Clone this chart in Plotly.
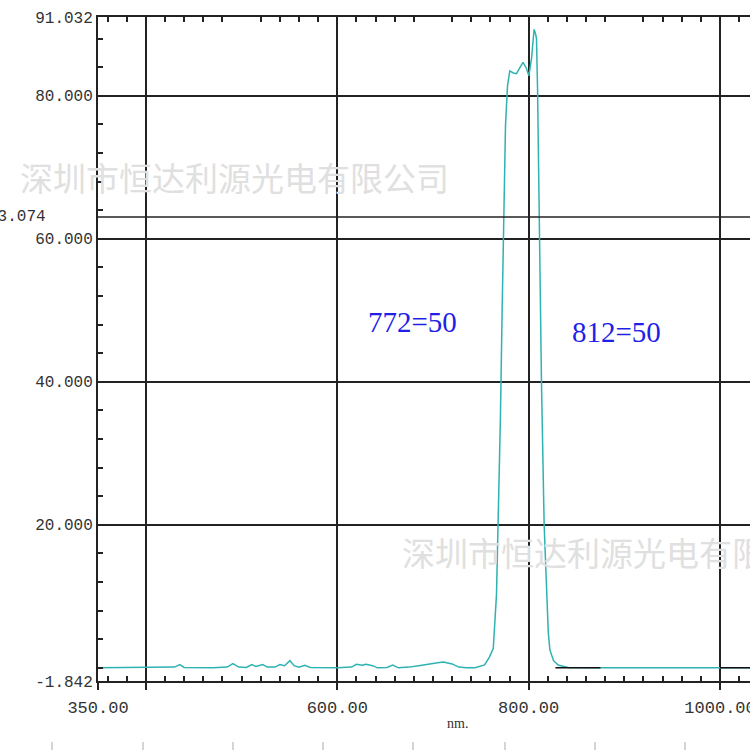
import plotly.graph_objects as go

# ---- data ----
wavelength = [350, 375, 383, 390, 420, 430, 435.5, 440, 470, 485, 491, 497, 505, 510.7, 515, 522, 527,
              535, 540, 545, 550.5, 555, 560, 566, 572, 600, 615, 620, 626, 630, 637, 642, 652, 658, 664,
              675, 685, 695, 705, 711, 720, 727, 735, 744, 754, 759, 763, 766.4, 768.1, 770.5, 772.3,
              773.5, 775.8, 777.9, 780.3, 784, 787.3, 791, 794.2, 797.8, 800.2, 803, 805.7, 807.2, 808.2,
              809.3, 810.6, 811.7, 812.7, 813.4, 816.2, 818.7, 820.5, 822.2, 826, 830.9, 841, 870, 1000, 1035]
transmittance = [0.0, 0.0, 0.1, 0.0, 0.05, 0.1, 0.45, 0.05, 0.0, 0.1, 0.6, 0.1, 0.05, 0.45, 0.2, 0.45, 0.1,
                 0.1, 0.45, 0.3, 1.0, 0.3, 0.1, 0.35, 0.05, 0.0, 0.1, 0.5, 0.35, 0.5, 0.3, 0.0, 0.05, 0.4, 0.0,
                 0.1, 0.3, 0.45, 0.7, 0.8, 0.55, 0.1, 0.0, 0.0, 0.4, 1.5, 2.7, 10.2, 20.0, 35.0, 50.0,
                 60.0, 75.8, 81.4, 83.5, 83.2, 83.1, 84.0, 84.7, 83.8, 82.8, 85.2, 89.3, 88.7, 88.0,
                 81.0, 67.5, 53.5, 42.3, 40.0, 20.0, 10.2, 5.0, 2.5, 1.0, 0.4, 0.05, 0.0, 0.0, 0.0]

# black baseline segments visible over the curve
base_x = [828, 875, None, 1000, 1035]
base_y = [0, 0, None, 0, 0]

x_range = [350, 1031.3]
y_range = [-1.842, 91.032]
y_tickvals = [-1.842, 20, 40, 60, 80, 91.032]
y_ticktext = ["-1.842", "20.000", "40.000", "60.000", "80.000", "91.032"]
x_tickvals = [350, 400, 600, 800, 1000]
x_ticktext = ["350.00", "", "600.00", "800.00", "1000.00"]
ref_level = 63.074
marks = [("772=50", 679, 48.4), ("812=50", 892, 47.0)]
watermark = "深圳市恒达利源光电有限公司"

# plot area on the page: x 98..750, y 17..681
PL, PT, PW, PH = 98, 17, 652, 664


def px(x):
    return (x - PL) / PW


def py(y):
    return (PT + PH - y) / PH


fig = go.Figure()
fig.add_trace(go.Scatter(x=wavelength, y=transmittance, mode="lines",
                         line=dict(color="#2fb2b2", width=1.5), hoverinfo="skip", showlegend=False))
fig.add_trace(go.Scatter(x=base_x, y=base_y, mode="lines",
                         line=dict(color="#111111", width=1.5), hoverinfo="skip", showlegend=False))
# top axis with minor ticks
fig.add_trace(go.Scatter(x=[None], y=[None], xaxis="x2", showlegend=False))

mono = "Liberation Mono"
fig.update_layout(
    width=750, height=750,
    margin=dict(l=98, r=0, t=17, b=69, autoexpand=False),
    paper_bgcolor="white", plot_bgcolor="white",
    xaxis=dict(range=x_range, tickvals=x_tickvals, ticktext=x_ticktext, automargin=False,
               ticklabeloverflow="allow", ticklabelstandoff=3,
               showgrid=True, gridcolor="#222222", gridwidth=1.5,
               showline=True, linecolor="#222222", linewidth=2,
               ticks="outside", ticklen=7, tickcolor="#222222", tickwidth=1.5,
               minor=dict(ticks="inside", dtick=20, tick0=0, ticklen=5, tickcolor="#222222", tickwidth=1.5,
                          showgrid=False),
               tickfont=dict(family=mono, size=17, color="#333333"), zeroline=False),
    xaxis2=dict(range=x_range, overlaying="x", side="top", showgrid=False, showticklabels=False,
                automargin=False,
                showline=True, linecolor="#222222", linewidth=2, ticks="",
                minor=dict(ticks="inside", dtick=20, tick0=0, ticklen=5, tickcolor="#222222", tickwidth=1.5),
                zeroline=False),
    yaxis=dict(range=y_range, tickvals=y_tickvals, ticktext=y_ticktext, automargin=False,
               ticklabeloverflow="allow",
               showgrid=True, gridcolor="#222222", gridwidth=1.5,
               showline=True, linecolor="#222222", linewidth=2, ticks="",
               minor=dict(ticks="inside", dtick=4, tick0=0, ticklen=5, tickcolor="#222222", tickwidth=1.5,
                          showgrid=False),
               tickfont=dict(family=mono, size=16, color="#333333"), zeroline=False),
)

fig.add_hline(y=ref_level, line=dict(color="#222222", width=1.5))
fig.add_annotation(x=px(48), xref="paper", y=ref_level, yref="y", text=f"{ref_level:.3f}",
                   showarrow=False, xanchor="right", yanchor="middle",
                   font=dict(family=mono, size=16, color="#333333"))
for txt, xv, yv in marks:
    fig.add_annotation(x=xv, y=yv, text=txt, showarrow=False, xanchor="center", yanchor="middle",
                       font=dict(family="Liberation Serif", size=29, color="#1f1fe8"))
fig.add_annotation(x=px(457), xref="paper", y=py(733), yref="paper", text="nm.",
                   showarrow=False, font=dict(family="Liberation Serif", size=14, color="#333333"))
fig.add_annotation(x=px(18), xref="paper", y=py(177), yref="paper", text=watermark,
                   showarrow=False, xanchor="left", yanchor="middle",
                   font=dict(family="Noto Sans CJK SC", size=33, color="#e0e0e0"))
fig.add_annotation(x=px(400), xref="paper", y=py(552), yref="paper", text=watermark,
                   showarrow=False, xanchor="left", yanchor="middle",
                   font=dict(family="Noto Sans CJK SC", size=33, color="#e0e0e0"))

# stray ruler marks at the very bottom of the picture
for mx in [52, 143, 233, 323, 413, 505, 595, 685]:
    fig.add_shape(type="line", xref="paper", yref="paper",
                  x0=px(mx), x1=px(mx), y0=py(742), y1=py(750),
                  line=dict(color="#aaaaaa", width=1))

fig.write_html("out.html", config={"displayModeBar": False},
               post_script="document.body.style.margin='0px';document.body.style.overflow='hidden';")
